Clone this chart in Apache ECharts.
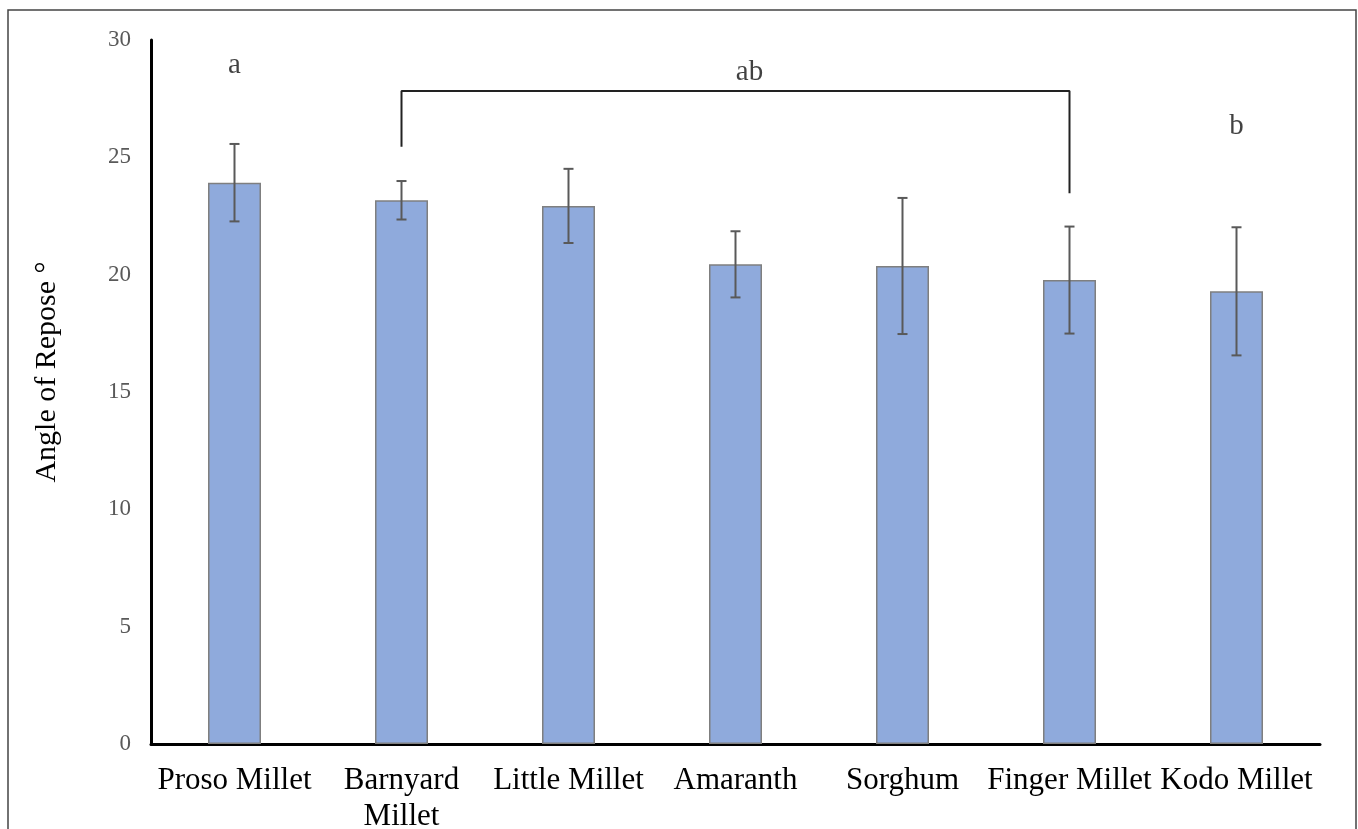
<!DOCTYPE html>
<html>
<head>
<meta charset="utf-8">
<script src="https://cdn.jsdelivr.net/npm/echarts@6/dist/echarts.min.js"></script>
<style>html,body{margin:0;padding:0;background:#fff;overflow:hidden}#c{width:1358px;height:829px}</style>
</head>
<body>
<div id="c"></div>
<script>
const categories = ['Proso Millet', 'Barnyard\nMillet', 'Little Millet', 'Amaranth', 'Sorghum', 'Finger Millet', 'Kodo Millet'];
const means = [23.92, 23.17, 22.93, 20.44, 20.37, 19.77, 19.29];
const errors = [1.65, 0.82, 1.58, 1.41, 2.90, 2.28, 2.73];
const yTicks = { min: 0, max: 30, interval: 5 };
const letters = [
  { x: 0, y: 28.9, text: 'a', offset: [0, 0] },
  { x: 3, y: 28.64, text: 'ab', offset: [14, 0] },
  { x: 6, y: 26.33, text: 'b', offset: [0, 0] }
];
const bracket = [[1, 25.45], [1, 27.83], [5, 27.83], [5, 23.47]];

const serif = 'Liberation Serif';
const chart = echarts.init(document.getElementById('c'));
chart.setOption({
  animation: false,
  backgroundColor: '#fff',
  graphic: [{
    type: 'rect', shape: { x: 8, y: 10, width: 1348, height: 840 },
    style: { fill: 'none', stroke: '#444', lineWidth: 1.5 }, z: -1
  }],
  grid: { left: 151, right: 38, top: 40, bottom: 85, outerBoundsMode: 'none', containLabel: false },
  xAxis: {
    type: 'category', data: categories,
    axisLine: { lineStyle: { color: '#000', width: 3 } },
    axisTick: { show: false },
    axisLabel: { color: '#000', fontFamily: serif, fontSize: 31, margin: 19, lineHeight: 36, interval: 0 }
  },
  yAxis: {
    type: 'value', min: yTicks.min, max: yTicks.max, interval: yTicks.interval,
    name: 'Angle of Repose °', nameLocation: 'middle', nameGap: 89,
    nameTextStyle: { color: '#000', fontFamily: serif, fontSize: 30, padding: [0, 0, 0, 40] },
    axisLine: { show: true, lineStyle: { color: '#000', width: 3 } },
    axisTick: { show: false },
    splitLine: { show: false },
    axisLabel: { color: '#595959', fontFamily: serif, fontSize: 23, margin: 20 }
  },
  series: [
    {
      type: 'bar', data: means, barWidth: 53,
      itemStyle: { color: '#8faadc', borderColor: '#7f7f7f', borderWidth: 1.5 }
    },
    {
      type: 'custom', z: 5,
      data: means.map((m, i) => [i, m - errors[i], m + errors[i]]),
      renderItem: function (params, api) {
        const lo = api.coord([api.value(0), api.value(1)]);
        const hi = api.coord([api.value(0), api.value(2)]);
        const w = 5;
        const st = { stroke: '#595959', lineWidth: 2 };
        return { type: 'group', children: [
          { type: 'line', shape: { x1: lo[0], y1: lo[1], x2: hi[0], y2: hi[1] }, style: st },
          { type: 'line', shape: { x1: lo[0] - w, y1: lo[1], x2: lo[0] + w, y2: lo[1] }, style: st },
          { type: 'line', shape: { x1: hi[0] - w, y1: hi[1], x2: hi[0] + w, y2: hi[1] }, style: st }
        ] };
      }
    },
    {
      type: 'line', data: bracket, symbol: 'none', z: 6,
      lineStyle: { color: '#222', width: 2 }
    },
    {
      type: 'scatter', symbolSize: 0, z: 7,
      data: letters.map(l => ({ value: [l.x, l.y], label: { show: true, formatter: l.text, offset: l.offset } })),
      label: { position: 'inside', color: '#111', fontFamily: serif, fontSize: 29 }
    }
  ]
});
</script>
</body>
</html>
